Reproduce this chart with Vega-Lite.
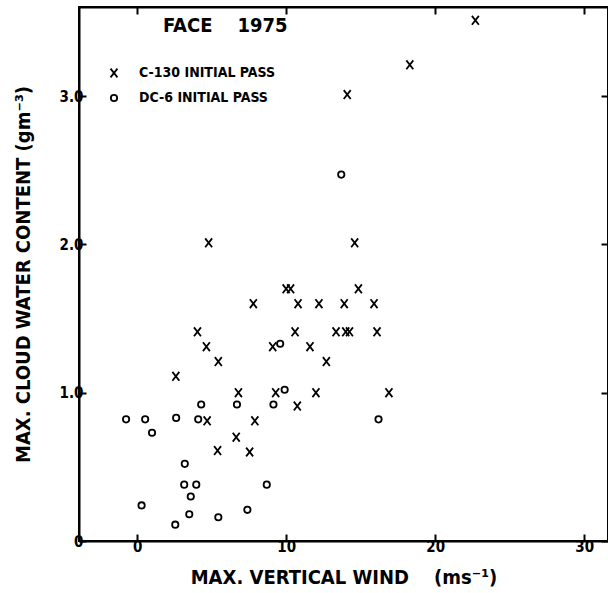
{
  "$schema": "https://vega.github.io/schema/vega-lite/v6.json",
  "width": 529,
  "height": 534,
  "autosize": {"type": "none"},
  "padding": {"left": 79, "top": 7, "right": 0, "bottom": 52},
  "background": "white",
  "title": {"text": "FACE\u00a0\u00a0\u00a0\u00a01975", "anchor": "start", "frame": "group", "dx": 84, "offset": -30, "font": "DejaVu Sans Condensed", "fontSize": 20, "fontWeight": "bold", "color": "black"},
  "config": {
    "view": {"stroke": "black", "strokeWidth": 2},
    "axis": {"grid": false, "domainColor": "black", "domainWidth": 2, "tickColor": "black", "tickWidth": 2, "tickSize": -7, "labelColor": "black", "titleColor": "black", "labelFont": "DejaVu Sans Condensed", "titleFont": "DejaVu Sans Condensed", "labelFontSize": 15, "titleFontSize": 20, "titleFontWeight": "bold", "labelFontWeight": "bold"},
    "legend": {"labelFont": "DejaVu Sans Condensed", "labelFontSize": 14, "labelColor": "black", "labelFontWeight": "bold"}
  },
  "data": {"values": [
    {"w": 22.7, "lwc": 3.51, "ac": "C-130 INITIAL PASS"},
    {"w": 18.3, "lwc": 3.21, "ac": "C-130 INITIAL PASS"},
    {"w": 14.1, "lwc": 3.01, "ac": "C-130 INITIAL PASS"},
    {"w": 4.8, "lwc": 2.01, "ac": "C-130 INITIAL PASS"},
    {"w": 14.6, "lwc": 2.01, "ac": "C-130 INITIAL PASS"},
    {"w": 10.0, "lwc": 1.70, "ac": "C-130 INITIAL PASS"},
    {"w": 10.3, "lwc": 1.70, "ac": "C-130 INITIAL PASS"},
    {"w": 14.85, "lwc": 1.70, "ac": "C-130 INITIAL PASS"},
    {"w": 7.8, "lwc": 1.60, "ac": "C-130 INITIAL PASS"},
    {"w": 10.8, "lwc": 1.60, "ac": "C-130 INITIAL PASS"},
    {"w": 12.2, "lwc": 1.60, "ac": "C-130 INITIAL PASS"},
    {"w": 13.9, "lwc": 1.60, "ac": "C-130 INITIAL PASS"},
    {"w": 15.9, "lwc": 1.60, "ac": "C-130 INITIAL PASS"},
    {"w": 4.05, "lwc": 1.41, "ac": "C-130 INITIAL PASS"},
    {"w": 10.6, "lwc": 1.41, "ac": "C-130 INITIAL PASS"},
    {"w": 13.35, "lwc": 1.41, "ac": "C-130 INITIAL PASS"},
    {"w": 14.0, "lwc": 1.41, "ac": "C-130 INITIAL PASS"},
    {"w": 14.25, "lwc": 1.41, "ac": "C-130 INITIAL PASS"},
    {"w": 16.1, "lwc": 1.41, "ac": "C-130 INITIAL PASS"},
    {"w": 4.65, "lwc": 1.31, "ac": "C-130 INITIAL PASS"},
    {"w": 9.1, "lwc": 1.31, "ac": "C-130 INITIAL PASS"},
    {"w": 11.6, "lwc": 1.31, "ac": "C-130 INITIAL PASS"},
    {"w": 5.45, "lwc": 1.21, "ac": "C-130 INITIAL PASS"},
    {"w": 12.7, "lwc": 1.21, "ac": "C-130 INITIAL PASS"},
    {"w": 2.6, "lwc": 1.11, "ac": "C-130 INITIAL PASS"},
    {"w": 6.8, "lwc": 1.00, "ac": "C-130 INITIAL PASS"},
    {"w": 9.3, "lwc": 1.00, "ac": "C-130 INITIAL PASS"},
    {"w": 12.0, "lwc": 1.00, "ac": "C-130 INITIAL PASS"},
    {"w": 16.9, "lwc": 1.00, "ac": "C-130 INITIAL PASS"},
    {"w": 10.75, "lwc": 0.91, "ac": "C-130 INITIAL PASS"},
    {"w": 4.7, "lwc": 0.81, "ac": "C-130 INITIAL PASS"},
    {"w": 7.9, "lwc": 0.81, "ac": "C-130 INITIAL PASS"},
    {"w": 6.65, "lwc": 0.70, "ac": "C-130 INITIAL PASS"},
    {"w": 5.4, "lwc": 0.61, "ac": "C-130 INITIAL PASS"},
    {"w": 7.55, "lwc": 0.60, "ac": "C-130 INITIAL PASS"},
    {"w": 13.7, "lwc": 2.47, "ac": "DC-6 INITIAL PASS"},
    {"w": 9.6, "lwc": 1.33, "ac": "DC-6 INITIAL PASS"},
    {"w": 9.9, "lwc": 1.02, "ac": "DC-6 INITIAL PASS"},
    {"w": 4.3, "lwc": 0.92, "ac": "DC-6 INITIAL PASS"},
    {"w": 6.7, "lwc": 0.92, "ac": "DC-6 INITIAL PASS"},
    {"w": 9.15, "lwc": 0.92, "ac": "DC-6 INITIAL PASS"},
    {"w": -0.74, "lwc": 0.82, "ac": "DC-6 INITIAL PASS"},
    {"w": 0.54, "lwc": 0.82, "ac": "DC-6 INITIAL PASS"},
    {"w": 2.62, "lwc": 0.83, "ac": "DC-6 INITIAL PASS"},
    {"w": 4.1, "lwc": 0.82, "ac": "DC-6 INITIAL PASS"},
    {"w": 16.2, "lwc": 0.82, "ac": "DC-6 INITIAL PASS"},
    {"w": 1.0, "lwc": 0.73, "ac": "DC-6 INITIAL PASS"},
    {"w": 3.2, "lwc": 0.52, "ac": "DC-6 INITIAL PASS"},
    {"w": 3.16, "lwc": 0.38, "ac": "DC-6 INITIAL PASS"},
    {"w": 3.97, "lwc": 0.38, "ac": "DC-6 INITIAL PASS"},
    {"w": 8.7, "lwc": 0.38, "ac": "DC-6 INITIAL PASS"},
    {"w": 3.6, "lwc": 0.30, "ac": "DC-6 INITIAL PASS"},
    {"w": 0.3, "lwc": 0.24, "ac": "DC-6 INITIAL PASS"},
    {"w": 7.4, "lwc": 0.21, "ac": "DC-6 INITIAL PASS"},
    {"w": 3.5, "lwc": 0.18, "ac": "DC-6 INITIAL PASS"},
    {"w": 5.45, "lwc": 0.16, "ac": "DC-6 INITIAL PASS"},
    {"w": 2.56, "lwc": 0.11, "ac": "DC-6 INITIAL PASS"}
  ]},
  "layer": [
    {
      "mark": {"type": "point", "filled": false, "strokeWidth": 1.8, "color": "black", "opacity": 1, "size": 40},
      "encoding": {
        "x": {"field": "w", "type": "quantitative", "scale": {"domain": [-3.9, 31.6], "nice": false, "zero": false},
              "axis": {"orient": "bottom", "values": [0, 10, 20, 30], "labelPadding": 5, "title": "MAX. VERTICAL WIND\u00a0\u00a0\u00a0\u00a0(ms⁻¹)", "titlePadding": 13}},
        "y": {"field": "lwc", "type": "quantitative", "scale": {"domain": [0, 3.6], "nice": false, "zero": false},
              "axis": {"orient": "left", "values": [0, 1, 2, 3], "labelExpr": "datum.value == 0 ? '0' : format(datum.value, '.1f')", "labelPadding": 3, "title": "MAX. CLOUD WATER CONTENT\u00a0(gm⁻³)", "titlePadding": 26}},
        "shape": {"field": "ac", "type": "nominal", "scale": {"domain": ["C-130 INITIAL PASS", "DC-6 INITIAL PASS"], "range": ["M-1.1,-1.4L1.1,1.4M-1.1,1.4L1.1,-1.4", "circle"]},
                  "legend": {"title": null, "orient": "none", "legendX": 28, "legendY": 59, "rowPadding": 9, "labelOffset": 18, "symbolSize": 40, "symbolStrokeColor": "black", "symbolStrokeWidth": 1.8, "symbolFillColor": "transparent"}}
      }
    },
    {
      "mark": {"type": "point", "opacity": 0},
      "encoding": {
        "x": {"field": "w", "type": "quantitative", "axis": {"orient": "top", "values": [0, 10, 20, 30], "labels": false, "title": null}},
        "y": {"field": "lwc", "type": "quantitative", "axis": {"orient": "right", "values": [0, 1, 2, 3], "labels": false, "title": null}}
      }
    }
  ],
  "resolve": {"axis": {"x": "independent", "y": "independent"}}
}
